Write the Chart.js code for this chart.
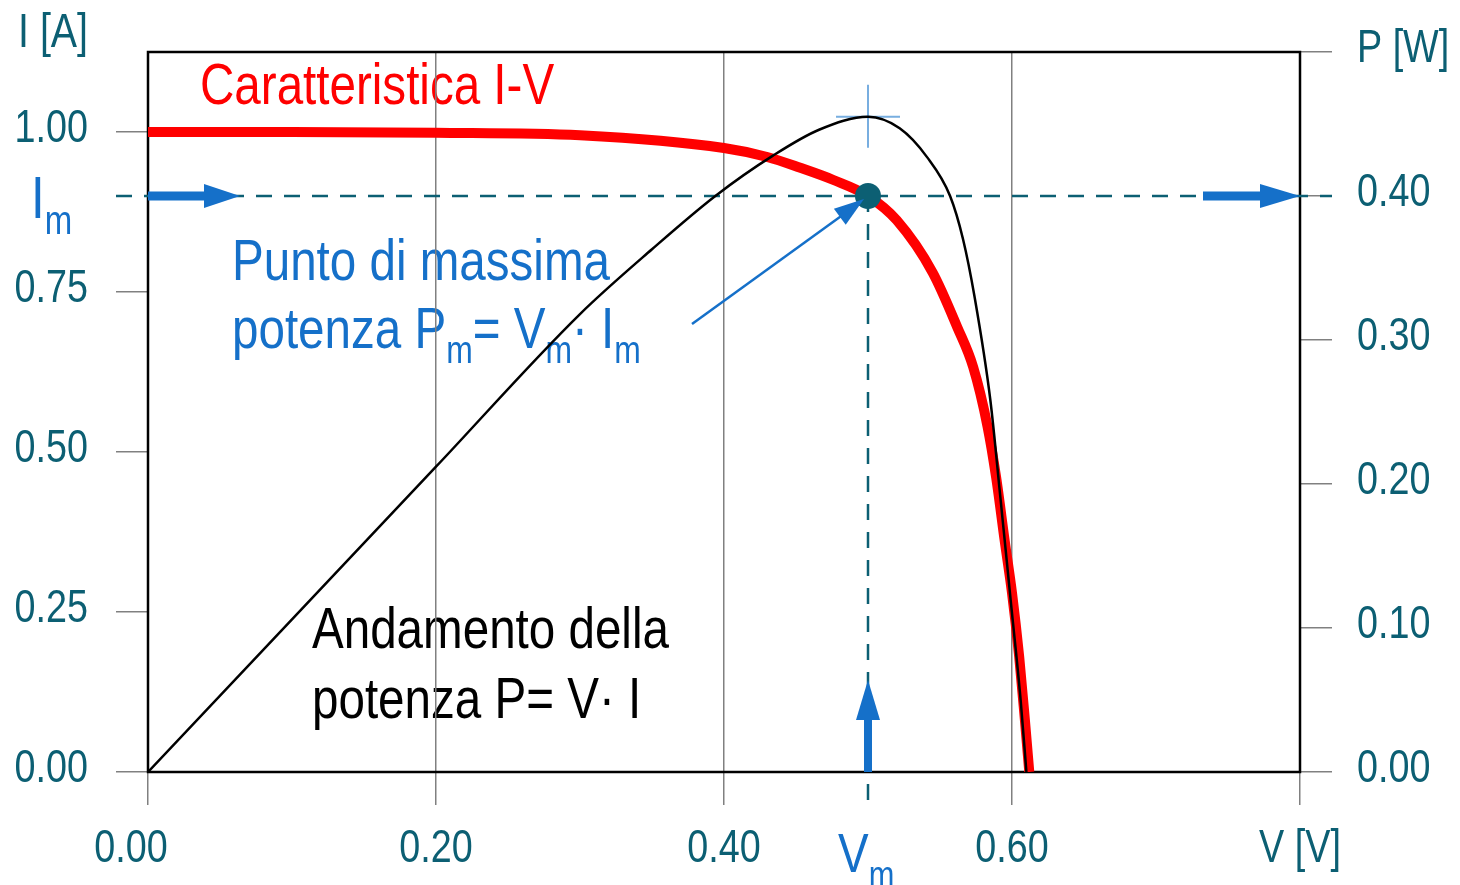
<!DOCTYPE html>
<html>
<head>
<meta charset="utf-8">
<script src="https://cdn.jsdelivr.net/npm/chart.js@4.4.1/dist/chart.umd.min.js"></script>
<style>
    html, body { margin: 0; padding: 0; background: #fff; }
    #wrap { width: 1460px; height: 885px; position: relative; }
</style>
</head>
<body>
<div id="wrap"><canvas id="ivChart"></canvas></div>
<script>
// I-V characteristic of the cell (V in volts, I in amperes)
const ivVoltage = [0, 0.10, 0.20, 0.30, 0.40, 0.43, 0.453, 0.476, 0.50, 0.52, 0.545, 0.562, 0.573, 0.583, 0.589, 0.595, 0.600, 0.605, 0.609, 0.612];
const ivCurrent = [1.0, 1.0, 0.999, 0.995, 0.975, 0.961, 0.944, 0.925, 0.90, 0.862, 0.78, 0.695, 0.633, 0.54, 0.46, 0.36, 0.28, 0.18, 0.08, 0];

// power curve P = V * I (W)
const powerVoltage = [0, 0.10, 0.20, 0.30, 0.35, 0.394, 0.434, 0.466, 0.50, 0.522, 0.541, 0.557, 0.566, 0.574, 0.585, 0.592, 0.599, 0.606, 0.610];
const powerValues = [0, 0.106, 0.212, 0.318, 0.363, 0.40, 0.428, 0.446, 0.455, 0.447, 0.427, 0.40, 0.37, 0.33, 0.258, 0.19, 0.12, 0.05, 0];

// maximum power point
const vMax = 0.5;
const iMax = 0.9;
const pMax = 0.455;

// tick values
const voltageTicks = [0, 0.2, 0.4, 0.6, 0.8];
const currentTicks = [0, 0.25, 0.5, 0.75, 1.0];
const powerTicks = [0, 0.1, 0.2, 0.3, 0.4, 0.5];

const FONT = "'Liberation Sans', Arial, sans-serif";
const NARROW = 0.82; // horizontal squeeze, narrow face look
const TEAL = '#0c5f73';
const BLUE = '#1570c9';

// text in a narrowed face, parts may be subscripts
function richText(ctx, x, y, parts, color, size, align) {
    ctx.save();
    ctx.translate(x, y);
    ctx.scale(NARROW, 1);
    ctx.fillStyle = color;
    ctx.textBaseline = 'alphabetic';
    ctx.textAlign = 'left';
    let total = 0;
    for (const p of parts) {
        ctx.font = `${p.sub ? size * 0.67 : size}px ${FONT}`;
        total += ctx.measureText(p.t).width;
    }
    let cx = align === 'right' ? -total : align === 'center' ? -total / 2 : 0;
    for (const p of parts) {
        const s = p.sub ? size * 0.67 : size;
        ctx.font = `${s}px ${FONT}`;
        ctx.fillText(p.t, cx, p.sub ? size * 0.26 : 0);
        cx += ctx.measureText(p.t).width;
    }
    ctx.restore();
}

// thick arrow with filled triangular head, tip at (x2, y2)
function blockArrow(ctx, x1, y1, x2, y2, shaft, headLen, headW) {
    const ang = Math.atan2(y2 - y1, x2 - x1);
    const len = Math.hypot(x2 - x1, y2 - y1);
    ctx.save();
    ctx.translate(x1, y1);
    ctx.rotate(ang);
    ctx.fillStyle = BLUE;
    if (shaft > 0) ctx.fillRect(0, -shaft / 2, len - headLen + 1, shaft);
    ctx.beginPath();
    ctx.moveTo(len, 0);
    ctx.lineTo(len - headLen, -headW / 2);
    ctx.lineTo(len - headLen, headW / 2);
    ctx.closePath();
    ctx.fill();
    ctx.restore();
}

const decorPlugin = {
    id: 'decor',
    beforeDraw(chart) {
        const ctx = chart.ctx;
        richText(ctx, 200, 104, [{ t: 'Caratteristica I-V' }], '#ff0000', 58);
        richText(ctx, 232, 280, [{ t: 'Punto di massima' }], BLUE, 58);
        richText(ctx, 232, 348, [
            { t: 'potenza P' }, { t: 'm', sub: true }, { t: '= V' }, { t: 'm', sub: true },
            { t: '\u00b7 I' }, { t: 'm', sub: true }
        ], BLUE, 58);
        richText(ctx, 312, 648, [{ t: 'Andamento della' }], '#000', 58);
        richText(ctx, 312, 718, [{ t: 'potenza P= V\u00b7 I' }], '#000', 58);
    },
    beforeDatasetsDraw(chart) {
        const { ctx, chartArea: a, scales } = chart;
        const px = scales.x.getPixelForValue(vMax);
        const py = scales.y.getPixelForValue(iMax);
        const pp = scales.y2.getPixelForValue(pMax);
        ctx.save();
        // plot frame
        ctx.strokeStyle = '#000';
        ctx.lineWidth = 2.5;
        ctx.strokeRect(a.left, a.top, a.right - a.left, a.bottom - a.top);
        // guide lines through the max power point
        ctx.strokeStyle = TEAL;
        ctx.lineWidth = 2.5;
        ctx.setLineDash([16, 12]);
        ctx.beginPath();
        ctx.moveTo(a.left - 32, py);
        ctx.lineTo(a.right + 32, py);
        ctx.moveTo(px, py);
        ctx.lineTo(px, a.bottom + 33);
        ctx.stroke();
        ctx.setLineDash([]);
        // cross at the power peak
        ctx.strokeStyle = '#78aee0';
        ctx.lineWidth = 2;
        ctx.beginPath();
        ctx.moveTo(px, pp - 32);
        ctx.lineTo(px, pp + 31);
        ctx.moveTo(px - 32, pp);
        ctx.lineTo(px + 32, pp);
        ctx.stroke();
        ctx.restore();
    },
    afterDatasetsDraw(chart) {
        const { ctx, chartArea: a, scales } = chart;
        const px = scales.x.getPixelForValue(vMax);
        const py = scales.y.getPixelForValue(iMax);
        ctx.save();
        blockArrow(ctx, a.left, py, a.left + 92, py, 9, 36, 24);
        blockArrow(ctx, a.right - 97, py, a.right, py, 9, 40, 24);
        blockArrow(ctx, px, a.bottom, px, a.bottom - 92, 8, 40, 24);
        // pointer to the max power point
        const tx = px - 4, ty = py + 3;
        ctx.strokeStyle = BLUE;
        ctx.lineWidth = 2.5;
        ctx.beginPath();
        ctx.moveTo(692, 324);
        ctx.lineTo(tx - 20, ty + 15);
        ctx.stroke();
        blockArrow(ctx, tx - 30, ty + 22, tx, ty, 0, 30, 20);
        ctx.restore();

        // tick labels at the scale positions
        const fmt = (v) => v.toFixed(2);
        scales.y.ticks.forEach(t => {
            richText(ctx, a.left - 60, scales.y.getPixelForValue(t.value) + 10, [{ t: fmt(t.value) }], TEAL, 46, 'right');
        });
        scales.y2.ticks.forEach(t => {
            const lbl = t.value >= 0.49 ? 'P [W]' : fmt(t.value);
            richText(ctx, a.right + 57, scales.y2.getPixelForValue(t.value) + 10, [{ t: lbl }], TEAL, 46, 'left');
        });
        scales.x.ticks.forEach(t => {
            const lbl = t.value >= 0.79 ? 'V [V]' : fmt(t.value);
            const shift = t.value === 0 ? -17 : 0;
            richText(ctx, scales.x.getPixelForValue(t.value) + shift, a.bottom + 90, [{ t: lbl }], TEAL, 46, 'center');
        });
        // axis title and subscripted labels
        richText(ctx, a.left - 60, 47, [{ t: 'I [A]' }], TEAL, 48, 'right');
        richText(ctx, 31, 218, [{ t: 'I' }, { t: 'm', sub: true }], BLUE, 60);
        richText(ctx, 838, 872, [{ t: 'V' }, { t: 'm', sub: true }], BLUE, 56);
    }
};

const gridStyle = { color: '#808080', lineWidth: 1.5 };

new Chart(document.getElementById('ivChart'), {
    type: 'line',
    data: {
        datasets: [
            {
                label: 'P',
                data: powerVoltage.map((v, i) => ({ x: v, y: powerValues[i] })),
                yAxisID: 'y2',
                borderColor: '#000',
                borderWidth: 2.5,
                pointRadius: 0,
                cubicInterpolationMode: 'monotone',
                fill: false,
                order: 1,
            },
            {
                label: 'I',
                data: ivVoltage.map((v, i) => ({ x: v, y: ivCurrent[i] })),
                yAxisID: 'y',
                borderColor: '#ff0000',
                borderWidth: 10,
                pointRadius: 0,
                cubicInterpolationMode: 'monotone',
                fill: false,
                order: 2,
            },
            {
                label: 'Pm',
                type: 'scatter',
                data: [{ x: vMax, y: iMax }],
                yAxisID: 'y',
                pointRadius: 13,
                backgroundColor: TEAL,
                borderWidth: 0,
                order: 0,
            },
        ],
    },
    options: {
        responsive: true,
        maintainAspectRatio: false,
        animation: false,
        layout: { padding: { top: 52, left: 0, right: 0, bottom: 0 } },
        plugins: { legend: { display: false }, tooltip: { enabled: false } },
        scales: {
            x: {
                type: 'linear',
                min: 0,
                max: 0.8,
                afterBuildTicks: (s) => { s.ticks = voltageTicks.map(v => ({ value: v })); },
                afterFit: (s) => { s.height = 113; },
                grid: { ...gridStyle, tickLength: 33, drawOnChartArea: true },
                border: { display: false },
                ticks: { display: false },
            },
            y: {
                position: 'left',
                min: 0,
                max: 1.125,
                afterBuildTicks: (s) => { s.ticks = currentTicks.map(v => ({ value: v })); },
                afterFit: (s) => { s.width = 148; },
                grid: { ...gridStyle, tickLength: 32, drawOnChartArea: false },
                border: { display: false },
                ticks: { display: false },
            },
            y2: {
                position: 'right',
                min: 0,
                max: 0.5,
                afterBuildTicks: (s) => { s.ticks = powerTicks.map(v => ({ value: v })); },
                afterFit: (s) => { s.width = 160; },
                grid: { ...gridStyle, tickLength: 32, drawOnChartArea: false },
                border: { display: false },
                ticks: { display: false },
            },
        },
    },
    plugins: [decorPlugin],
});
</script>
</body>
</html>
